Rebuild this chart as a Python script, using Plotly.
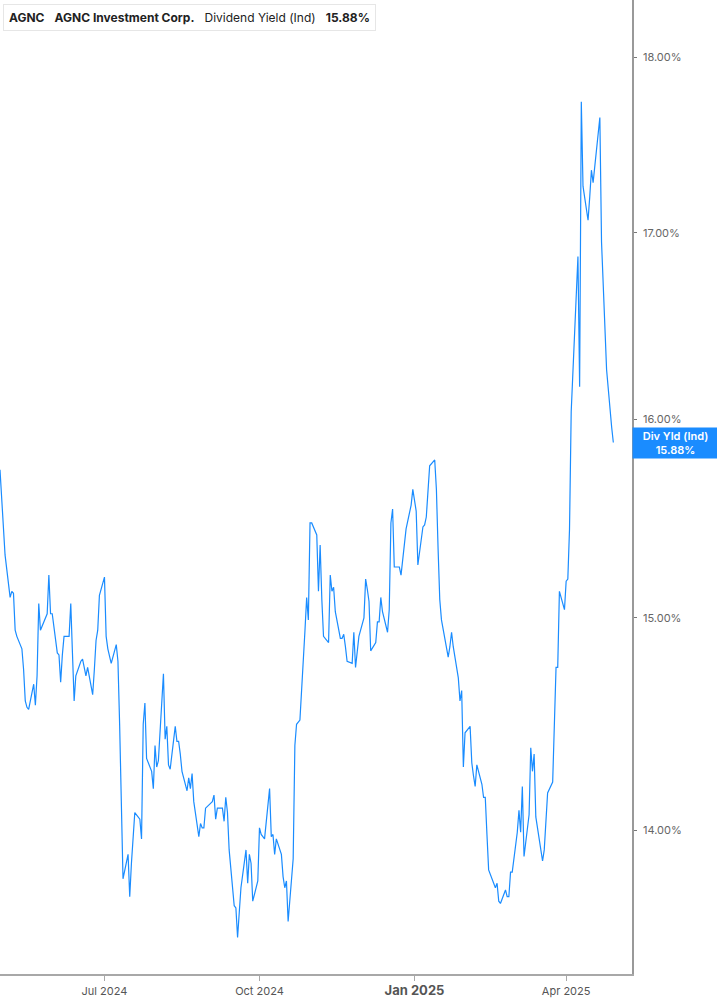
import math
import pandas as pd
import plotly.graph_objects as go

# ---- data ----
start_date = "2024-04-30"
end_date = "2025-04-29"
market_holidays = ["2024-05-27", "2024-06-19", "2024-07-04", "2024-09-02", "2024-11-28",
                   "2024-12-25", "2025-01-01", "2025-01-09", "2025-01-20", "2025-02-17",
                   "2025-04-18"]

yield_2024_q2 = [15.74, 15.58, 15.49, 15.31,
                 15.10, 15.13, 15.12, 14.94, 14.91,
                 14.85, 14.75, 14.60, 14.57, 14.56,
                 14.68, 14.58, 14.72, 15.07, 14.94,
                 15.02, 15.21, 15.02, 15.02,
                 14.83, 14.82, 14.69, 14.82, 14.91,
                 14.91, 15.07, 14.83, 14.60, 14.72,
                 14.79, 14.80, 14.72, 14.76,
                 14.63, 14.75, 14.89, 14.94, 15.11]
yield_2024_q3 = [15.20, 14.91, 14.85, 14.78,
                 14.87, 14.79, 14.49, 14.12, 13.78,
                 13.89, 13.70, 13.85, 13.96, 14.08,
                 14.05, 13.96, 14.49, 14.59, 14.33,
                 14.27, 14.19, 14.39, 14.29, 14.32,
                 14.73, 14.42, 14.48, 14.30, 14.28,
                 14.48, 14.41, 14.41, 14.35, 14.27,
                 14.18, 14.24, 14.19, 14.26, 14.13,
                 13.97, 14.03, 14.01, 14.01, 14.10,
                 14.13, 14.16, 14.05, 14.10,
                 14.10, 14.04, 14.15, 14.08, 13.91,
                 13.66, 13.65, 13.52, 13.63, 13.74]
yield_2024_q4 = [13.91, 13.76, 13.89, 13.85, 13.68,
                 13.77, 14.01, 13.98, 13.97, 13.96,
                 14.19, 13.97, 13.98, 13.89, 13.96,
                 13.89, 13.79, 13.74, 13.77, 13.59,
                 13.87, 14.39, 14.49, 14.50, 14.51,
                 14.94, 15.10, 14.99, 15.47, 15.47,
                 15.41, 15.13, 15.36, 15.09, 14.91,
                 14.88, 15.21, 15.13, 15.15, 15.03,
                 14.90, 14.90, 14.92, 14.86, 14.79,
                 14.78, 14.93, 14.76, 14.91,
                 15.00, 15.19, 15.14, 15.08, 14.84,
                 14.88, 14.98, 14.98, 15.10, 15.03,
                 14.93, 15.04, 15.47, 15.54, 15.25,
                 15.25, 15.21, 15.38, 15.44]
yield_2025 = [15.56, 15.64, 15.53, 15.26,
              15.45, 15.46, 15.50, 15.76,
              15.79, 15.64, 15.34, 15.09, 14.99,
              14.81, 14.86, 14.93, 14.86,
              14.71, 14.60, 14.65, 14.29, 14.45,
              14.48, 14.31, 14.25, 14.20, 14.30,
              14.21, 14.15, 14.15, 13.98, 13.82,
              13.74, 13.76, 13.68, 13.67,
              13.73, 13.70, 13.70, 13.81, 13.81,
              13.99, 14.09, 13.99, 14.20, 13.88,
              14.07, 14.38, 14.27, 14.35, 14.06,
              13.91, 13.86, 13.91, 14.05, 14.17,
              14.22, 14.50, 14.76, 14.76, 15.13,
              15.04, 15.18, 15.19, 15.44, 16.04,
              16.67, 16.87, 16.17, 17.74, 17.26,
              17.07, 17.20, 17.35, 17.28,
              17.65, 16.95, 16.70, 16.51, 16.26,
              15.96, 15.88]

y_tick_values = [14, 15, 16, 17, 18]
y_tick_labels = ["14.00%", "15.00%", "16.00%", "17.00%", "18.00%"]
x_tick_values = ["2024-07-01", "2024-10-01", "2025-01-01", "2025-04-01"]
x_tick_labels = ["Jul 2024", "Oct 2024",
                 "<span style='font-size:13px'><b>Jan 2025</b></span>", "Apr 2025"]

ticker = "AGNC"
company = "AGNC Investment Corp."
metric = "Dividend Yield (Ind)"
tag_label = "Div Yld (Ind)"

# ---- build ----
dates = pd.bdate_range(start_date, end_date)
dates = dates[~dates.isin(pd.to_datetime(market_holidays))]
values = yield_2024_q2 + yield_2024_q3 + yield_2024_q4 + yield_2025
n = min(len(dates), len(values))
dates = dates[:n]
values = values[:n]
last = values[-1]

BLUE = "#1a8cff"
FONT = "Inter, Roboto, Arial, sans-serif"

fig = go.Figure()
fig.add_trace(go.Scatter(x=dates, y=values, mode="lines",
                         line=dict(color=BLUE, width=1.2), hoverinfo="skip",
                         showlegend=False))

fig.update_layout(
    width=717, height=1005,
    margin=dict(l=0, r=85, t=0, b=31),
    paper_bgcolor="white", plot_bgcolor="white",
    font=dict(family=FONT, size=11, color="#666"),
    showlegend=False,
)
fig.update_xaxes(
    range=["2024-04-30", "2025-05-10 02:00"],
    showgrid=False, zeroline=False,
    showline=True, linecolor="#a8a8a8", linewidth=1.5,
    ticks="outside", ticklen=5, tickcolor="#a8a8a8", tickwidth=1,
    tickvals=x_tick_values, ticktext=x_tick_labels,
    tickfont=dict(size=11, color="#555"),
    ticklabelstandoff=1,
)
fig.update_yaxes(
    type="log", side="right",
    range=[math.log10(13.36), math.log10(18.337)],
    showgrid=False, zeroline=False,
    showline=True, linecolor="#999", linewidth=1.5,
    ticks="outside", ticklen=3, tickcolor="#777", tickwidth=1,
    tickvals=y_tick_values, ticktext=y_tick_labels,
    tickfont=dict(size=11, color="#666"),
    ticklabelstandoff=4,
)

nb = "\u00a0"
header = (f"<b>{ticker}</b>{nb*3}<b>{company}</b>{nb*3}{metric}{nb*3}<b>{last:.2f}%</b>")
fig.add_annotation(
    xref="paper", yref="paper", x=0, y=1, xanchor="left", yanchor="top",
    xshift=3, yshift=-4, text=header, showarrow=False, align="left",
    font=dict(family=FONT, size=12, color="#222"),
    bgcolor="white", bordercolor="#e6e6e6", borderwidth=1, borderpad=5,
)
fig.add_shape(type="rect", xref="paper", yref="paper",
              xsizemode="pixel", ysizemode="pixel", xanchor=0, yanchor=1,
              x0=3, x1=6, y0=-5, y1=-30, fillcolor=BLUE, line_width=0)

fig.add_annotation(
    xref="paper", yref="y", x=1, y=math.log10(last), xanchor="left", yanchor="middle",
    text=f"{tag_label}<br>{last:.2f}%", showarrow=False, align="center",
    font=dict(family=FONT, size=11, color="white", weight=600),
    bgcolor=BLUE, borderpad=1, width=83, height=28,
)

fig.write_html("out.html", config={"displayModeBar": False},
               post_script="document.body.style.margin='0';document.body.style.padding='0';")
